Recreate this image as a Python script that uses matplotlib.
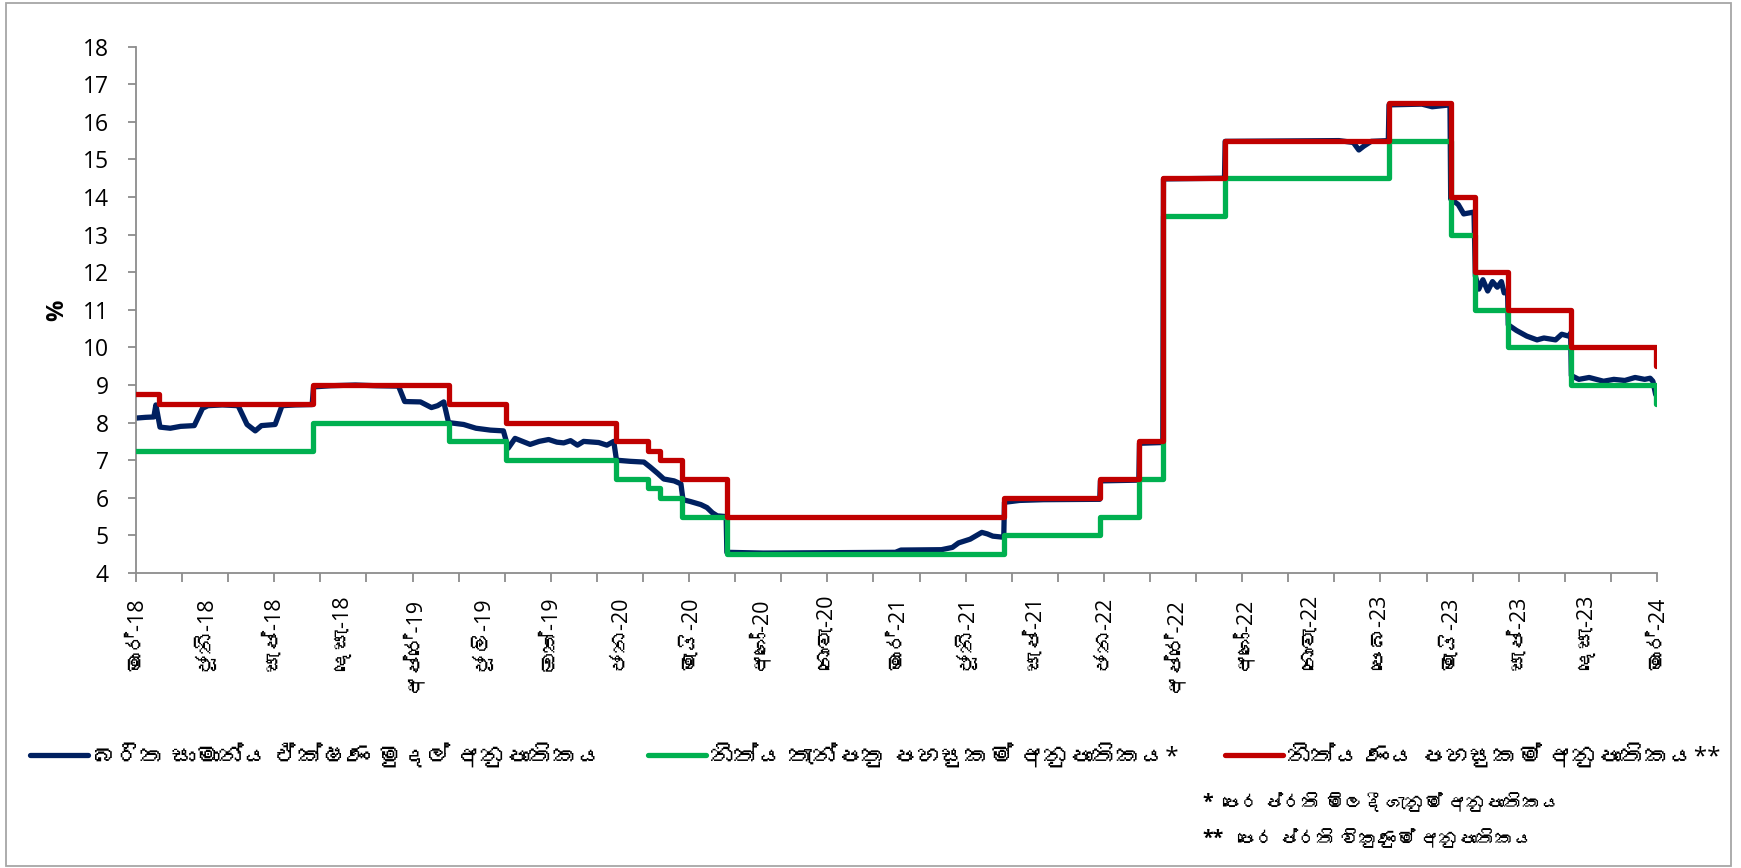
import numpy as np
import pandas as pd
import matplotlib
matplotlib.use("Agg")
import matplotlib.pyplot as plt
from matplotlib import font_manager
from matplotlib.lines import Line2D
from matplotlib.patches import Rectangle
import matplotlib.dates as mdates

# ---------------- data ----------------
start_date = "2018-03-01"
end_date = "2024-03-28"

# Standing deposit facility rate (green)
sdfr_dates = ["2018-03-01", "2018-11-14", "2019-05-31", "2019-08-23", "2020-01-30",
              "2020-03-17", "2020-04-03", "2020-05-06", "2020-07-10", "2021-08-19",
              "2022-01-06", "2022-03-04", "2022-04-08", "2022-07-07", "2023-03-03",
              "2023-06-01", "2023-07-06", "2023-08-24", "2023-11-24", "2024-03-27"]
sdfr_values = [7.25, 8.00, 7.50, 7.00, 6.50, 6.25, 6.00, 5.50, 4.50, 5.00,
               5.50, 6.50, 13.50, 14.50, 15.50, 13.00, 11.00, 10.00, 9.00, 8.50]

# Standing lending facility rate (red)
slfr_dates = ["2018-03-01", "2018-04-04", "2018-11-14", "2019-05-31", "2019-08-23",
              "2020-01-30", "2020-03-17", "2020-04-03", "2020-05-06", "2020-07-10",
              "2021-08-19", "2022-01-06", "2022-03-04", "2022-04-08", "2022-07-07",
              "2023-03-03", "2023-06-01", "2023-07-06", "2023-08-24", "2023-11-24",
              "2024-03-27"]
slfr_values = [8.75, 8.50, 9.00, 8.50, 8.00, 7.50, 7.25, 7.00, 6.50, 5.50,
               6.00, 6.50, 7.50, 14.50, 15.50, 16.50, 14.00, 12.00, 11.00, 10.00,
               9.50]

# Average weighted call money rate (navy)
awcmr_dates = ["2018-03-01", "2018-03-15", "2018-03-27", "2018-03-30", "2018-04-05",
               "2018-04-20", "2018-05-05", "2018-05-25", "2018-06-06", "2018-06-14",
               "2018-07-05", "2018-07-28", "2018-08-10", "2018-08-22", "2018-08-31",
               "2018-09-20", "2018-09-30", "2018-10-20", "2018-11-13", "2018-11-15",
               "2018-12-10", "2019-01-15", "2019-02-15", "2019-03-19", "2019-03-28",
               "2019-04-20", "2019-05-06", "2019-05-15", "2019-05-24", "2019-05-31",
               "2019-06-22", "2019-07-10", "2019-07-31", "2019-08-19", "2019-08-26",
               "2019-09-05", "2019-09-27", "2019-10-10", "2019-10-24", "2019-11-05",
               "2019-11-15", "2019-11-25", "2019-12-05", "2019-12-14", "2020-01-05",
               "2020-01-17", "2020-01-27", "2020-01-31", "2020-02-20", "2020-03-11",
               "2020-03-20", "2020-03-31", "2020-04-09", "2020-04-24", "2020-05-04",
               "2020-05-07", "2020-05-18", "2020-06-02", "2020-06-11", "2020-06-19",
               "2020-06-26", "2020-07-09", "2020-07-10", "2020-09-01", "2020-12-01",
               "2021-03-13", "2021-03-21", "2021-05-19", "2021-06-04", "2021-06-13",
               "2021-06-30", "2021-07-17", "2021-07-25", "2021-08-02", "2021-08-18",
               "2021-08-19", "2021-09-10", "2021-10-15", "2022-01-05", "2022-01-06",
               "2022-03-03", "2022-03-04", "2022-04-07", "2022-04-08", "2022-07-06",
               "2022-07-07", "2022-12-20", "2023-01-10", "2023-01-18", "2023-01-25",
               "2023-02-05", "2023-03-02", "2023-03-03", "2023-04-20", "2023-05-05",
               "2023-05-31", "2023-06-01", "2023-06-12", "2023-06-20", "2023-07-05",
               "2023-07-07", "2023-07-12", "2023-07-18", "2023-07-25", "2023-08-01",
               "2023-08-08", "2023-08-14", "2023-08-18", "2023-08-23", "2023-08-24",
               "2023-09-05", "2023-09-20", "2023-10-05", "2023-10-15", "2023-11-01",
               "2023-11-10", "2023-11-20", "2023-11-23", "2023-11-24", "2023-12-05",
               "2023-12-20", "2024-01-10", "2024-01-25", "2024-02-10", "2024-02-25",
               "2024-03-10", "2024-03-18", "2024-03-22", "2024-03-26", "2024-03-28"]
awcmr_values = [8.12, 8.14, 8.15, 8.47, 7.88,
                7.85, 7.90, 7.92, 8.38, 8.45,
                8.47, 8.45, 7.95, 7.78, 7.92,
                7.95, 8.45, 8.47, 8.48, 8.95,
                8.98, 9.00, 8.98, 8.97, 8.56,
                8.55, 8.40, 8.45, 8.55, 8.00,
                7.95, 7.85, 7.80, 7.78, 7.32,
                7.58, 7.42, 7.50, 7.55, 7.48,
                7.46, 7.52, 7.40, 7.50, 7.47,
                7.40, 7.50, 7.00, 6.97, 6.95,
                6.82, 6.65, 6.50, 6.45, 6.37,
                5.95, 5.90, 5.82, 5.74, 5.60,
                5.52, 5.50, 4.55, 4.53, 4.54,
                4.55, 4.61, 4.62, 4.68, 4.80,
                4.90, 5.08, 5.04, 4.98, 4.95,
                5.88, 5.93, 5.95, 5.96, 6.45,
                6.47, 7.45, 7.47, 14.48, 14.50,
                15.48, 15.50, 15.45, 15.25, 15.35,
                15.48, 15.50, 16.45, 16.47, 16.40,
                16.45, 13.95, 13.80, 13.55, 13.60,
                11.90, 11.55, 11.80, 11.50, 11.75,
                11.60, 11.75, 11.45, 11.50, 10.60,
                10.45, 10.30, 10.20, 10.25, 10.20,
                10.35, 10.30, 10.38, 9.25, 9.15,
                9.20, 9.10, 9.15, 9.12, 9.20,
                9.15, 9.18, 9.10, 8.75, 8.70]

x_labels = ["මාර්-18", "ජූනි-18", "සැප්-18", "දෙසැ-18", "අප්‍රේ-19", "ජූලි-19",
            "ඔක්-19", "ජන-20", "මැයි-20", "අගෝ-20", "නොවැ-20", "මාර්-21",
            "ජූනි-21", "සැප්-21", "ජන-22", "අප්‍රේ-22", "අගෝ-22", "නොවැ-22",
            "පෙබ-23", "මැයි-23", "සැප්-23", "දෙසැ-23", "මාර්-24"]
y_ticks = list(range(4, 19))
series_labels = ["බරිත සාමාන්‍ය ඒක්ෂණ මුදල් අනුපාතිකය",
                 "නිත්‍ය තැන්පතු පහසුකම් අනුපාතිකය*",
                 "නිත්‍ය ණය පහසුකම් අනුපාතිකය**"]
footnote_marks = ["*", "**"]
footnote_texts = ["පෙර ප්‍රති මිලදී ගැනුම් අනුපාතිකය",
                  "පෙර ප්‍රති විකුණුම් අනුපාතිකය"]
y_label = "%"


def clean(s):
    # the zero-width joiner has no glyph in the available fonts (no shaping anyway)
    return s.replace("\u200d", "")


# ---------------- fonts ----------------
def find_sinhala_font():
    try:
        from fontTools.ttLib import TTFont
    except Exception:
        return None
    seen = set()
    for f in font_manager.fontManager.ttflist:
        if f.fname in seen:
            continue
        seen.add(f.fname)
        try:
            tt = TTFont(f.fname, fontNumber=0, lazy=True)
            cmap = tt.getBestCmap()
            if cmap and 0x0DC3 in cmap and 0x0DCF in cmap:
                return f.name
        except Exception:
            continue
    return None


sinh = find_sinhala_font()
fam = ["Open Sans"] + ([sinh] if sinh else []) + ["DejaVu Sans"]
plt.rcParams["font.family"] = fam

# ---------------- figure ----------------
W, H = 1741, 868
fig = plt.figure(figsize=(W / 100, H / 100), dpi=100)
fig.patch.set_facecolor("white")


def fx(px):
    return px / W


def fy(py):
    return 1 - py / H


ax = fig.add_axes([fx(136), fy(573), fx(1657) - fx(136), fy(46.6) - fy(573)])

BLUE = "#002060"
GREEN = "#00B050"
RED = "#C00000"

t_end = pd.Timestamp(end_date)


def step_xy(dates, values):
    d = list(pd.to_datetime(dates)) + [t_end]
    v = list(values) + [values[-1]]
    return d, v


ax.plot(pd.to_datetime(awcmr_dates), awcmr_values, color=BLUE, lw=3.8,
        solid_joinstyle="round", solid_capstyle="round", zorder=2)
gx, gy = step_xy(sdfr_dates, sdfr_values)
ax.plot(gx, gy, drawstyle="steps-post", color=GREEN, lw=3.8, zorder=3)
rx, ry = step_xy(slfr_dates, slfr_values)
ax.plot(rx, ry, drawstyle="steps-post", color=RED, lw=3.8, zorder=4)

x0 = mdates.date2num(pd.Timestamp(start_date))
x1 = mdates.date2num(t_end)
ax.set_xlim(x0, x1)
ax.set_ylim(4, 18)

GRAY = "#8c8c8c"
for s in ["top", "right"]:
    ax.spines[s].set_visible(False)
for s in ["left", "bottom"]:
    ax.spines[s].set_color(GRAY)
    ax.spines[s].set_linewidth(1.3)

ax.set_yticks(y_ticks)
ax.set_yticklabels([str(v) for v in y_ticks])
ax.tick_params(axis="y", length=6, width=1.3, color=GRAY, pad=13.5,
               labelsize=16.5, labelcolor="black")

# tick marks (33 intervals) and labels (22 intervals)
ax.xaxis.remove_overlapping_locs = False
ax.set_xticks(np.linspace(x0, x1, 34))
ax.set_xticklabels([""] * 34)
ax.tick_params(axis="x", which="major", length=6.5, width=1.3, color=GRAY)
ax.set_xticks(np.linspace(x0, x1, len(x_labels)), minor=True)
ax.set_xticklabels([clean(s) for s in x_labels], minor=True, rotation=90)
ax.tick_params(axis="x", which="minor", length=0, pad=16.5, labelsize=15.5,
               labelcolor="black")

fig.text(fx(57), fy(310), y_label, rotation=90, ha="center", va="center",
         fontsize=17, fontweight="bold")

handles = [Line2D([], [], color=BLUE, lw=3.8, solid_capstyle="round"),
           Line2D([], [], color=GREEN, lw=3.8, solid_capstyle="round"),
           Line2D([], [], color=RED, lw=3.8, solid_capstyle="round")]
fig.legend(handles, [clean(s) for s in series_labels], loc="center",
           bbox_to_anchor=(fx(875), fy(757)),
           ncol=3, frameon=False, fontsize=17.5, handlelength=2.4,
           handletextpad=0.15, columnspacing=1.9)

for i, (m, t) in enumerate(zip(footnote_marks, footnote_texts)):
    ypx = 803 + 36 * i
    fig.text(fx(1202), fy(ypx), m, ha="left", va="center", fontsize=14,
             fontweight="bold")
    fig.text(fx(1222 + 15 * i), fy(ypx), clean(t), ha="left", va="center",
             fontsize=13.5)

fig.patches.append(Rectangle((fx(6), fy(866)), fx(1731) - fx(6), fy(3) - fy(866),
                             transform=fig.transFigure, fill=False,
                             edgecolor="#a6a6a6", lw=1.3))

fig.savefig("out.png", dpi=100, facecolor="white")
